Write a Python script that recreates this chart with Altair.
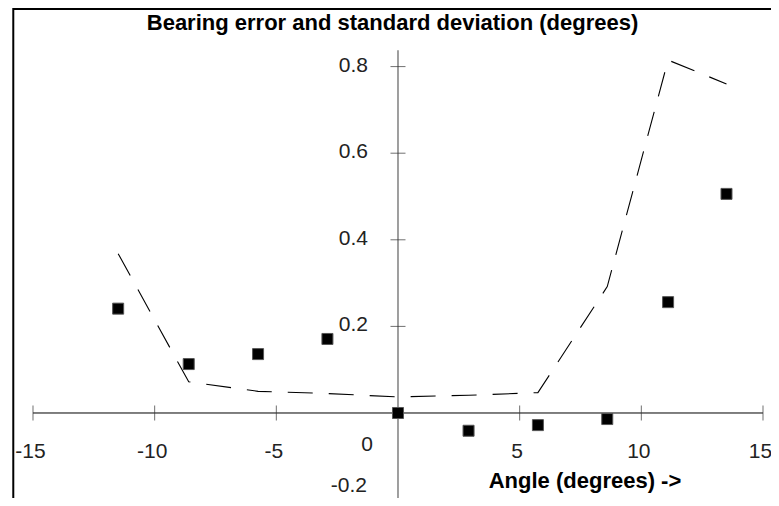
import altair as alt
import pandas as pd

# ---- data ----
angle = [-11.5, -8.6, -5.75, -2.9, 0.0, 2.9, 5.75, 8.6, 11.1, 13.5]
bearing_error = [0.241, 0.113, 0.136, 0.171, 0.0, -0.041, -0.028, -0.014, 0.256, 0.506]
std_dev = [0.368, 0.072, 0.050, 0.045, 0.037, 0.041, 0.047, 0.292, 0.815, 0.760]

x_ticks = [-15, -10, -5, 5, 10, 15]
x_tick_labels = ["-15", "-10", "-5", "5", "10", "15"]
y_ticks = [0.8, 0.6, 0.4, 0.2, -0.2]
y_tick_labels = ["0.8", "0.6", "0.4", "0.2", "-0.2"]

title_text = "Bearing error and standard deviation (degrees)"
x_title_text = "Angle (degrees) ->"

# ---- scales ----
W, H = 763, 490
X_DOM = [-16.027, 15.329]
Y_DOM = [-0.1963, 0.9353]
FONT = "Liberation Sans"

xs = alt.Scale(domain=X_DOM, nice=False, zero=False)
ys = alt.Scale(domain=Y_DOM, nice=False, zero=False)

def X(field):
    return alt.X(field, type="quantitative", scale=xs, axis=None)

def Y(field):
    return alt.Y(field, type="quantitative", scale=ys, axis=None)

df_pts = pd.DataFrame({"angle": angle, "err": bearing_error})
df_line = pd.DataFrame({"angle": angle, "sd": std_dev})
df_xt = pd.DataFrame({"v": x_ticks, "lab": x_tick_labels, "zero": [0.0] * len(x_ticks)})
df_yt = pd.DataFrame({"v": y_ticks, "lab": y_tick_labels, "zero": [0.0] * len(y_ticks)})
df_yt_in = df_yt[df_yt["v"] > 0]
df_yt_low = df_yt[df_yt["v"] < 0]

# frame (left and top edges)
frame_left = -15.81
frame_top = 0.933
df_frame_l = pd.DataFrame({"x": [frame_left], "y": [Y_DOM[0]], "y2": [Y_DOM[1]]})
df_frame_t = pd.DataFrame({"x": [frame_left], "x2": [X_DOM[1]], "y": [frame_top]})

frame_l = alt.Chart(df_frame_l).mark_rule(color="black", strokeWidth=2).encode(
    x=X("x"), y=Y("y"), y2="y2")
frame_t = alt.Chart(df_frame_t).mark_rule(color="black", strokeWidth=2).encode(
    x=X("x"), x2="x2", y=Y("y"))

# axes lines
df_xaxis = pd.DataFrame({"x": [-15.0], "x2": [15.0], "y": [0.0]})
df_yaxis = pd.DataFrame({"x": [0.0], "y": [Y_DOM[0]], "y2": [0.838]})
xaxis = alt.Chart(df_xaxis).mark_rule(color="black", strokeWidth=1).encode(
    x=X("x"), x2="x2", y=Y("y"))
yaxis = alt.Chart(df_yaxis).mark_rule(color="#7f7f7f", strokeWidth=1.5).encode(
    x=X("x"), y=Y("y"), y2="y2")

xticks = alt.Chart(df_xt).mark_tick(orient="vertical", size=15, thickness=1, color="#333333").encode(
    x=X("v"), y=Y("zero"))
yticks = alt.Chart(df_yt).mark_tick(orient="horizontal", size=15, thickness=1, color="#333333").encode(
    x=X("zero"), y=Y("v"))

xlabels = alt.Chart(df_xt).mark_text(font=FONT, fontSize=21, align="center", baseline="alphabetic",
                                     dx=-2.5, dy=45, color="#222222").encode(
    x=X("v"), y=Y("zero"), text="lab:N")
ylabels = alt.Chart(df_yt_in).mark_text(font=FONT, fontSize=21, align="right", baseline="alphabetic",
                                        dx=-30, dy=5, color="#222222").encode(
    x=X("zero"), y=Y("v"), text="lab:N")
ylabel_low = alt.Chart(df_yt_low).mark_text(font=FONT, fontSize=21, align="right", baseline="alphabetic",
                                            dx=-31, dy=-8, color="#222222").encode(
    x=X("zero"), y=Y("v"), text="lab:N")
zero_label = alt.Chart(pd.DataFrame({"x": [0.0], "y": [0.0], "lab": ["0"]})).mark_text(
    font=FONT, fontSize=21, align="right", baseline="alphabetic", dx=-25, dy=38, color="#222222").encode(
    x=X("x"), y=Y("y"), text="lab:N")

# data marks
line = alt.Chart(df_line).mark_line(color="black", strokeWidth=1.1, strokeDash=[25, 16]).encode(
    x=X("angle"), y=Y("sd"))
pts = alt.Chart(df_pts).mark_point(shape="square", filled=True, size=121, color="black",
                                   stroke="#555555", strokeWidth=1, opacity=1).encode(
    x=X("angle"), y=Y("err"))

# titles
title = alt.Chart(pd.DataFrame({"t": [title_text]})).mark_text(
    font=FONT, fontSize=22, fontWeight="bold", align="center", baseline="alphabetic", color="black").encode(
    x=alt.value(384.5), y=alt.value(22), text="t:N")
xtitle = alt.Chart(pd.DataFrame({"t": [x_title_text]})).mark_text(
    font=FONT, fontSize=22, fontWeight="bold", align="center", baseline="alphabetic", color="black").encode(
    x=alt.value(577), y=alt.value(480), text="t:N")

chart = alt.layer(
    frame_l, frame_t, xaxis, yaxis, xticks, yticks, xlabels, ylabels, ylabel_low, zero_label,
    line, pts, title, xtitle
).properties(
    width=W, height=H, padding=0, autosize=alt.AutoSizeParams(type="none")
).configure_view(stroke=None)

chart.save("out.html", embed_options={"renderer": "svg", "actions": False})
